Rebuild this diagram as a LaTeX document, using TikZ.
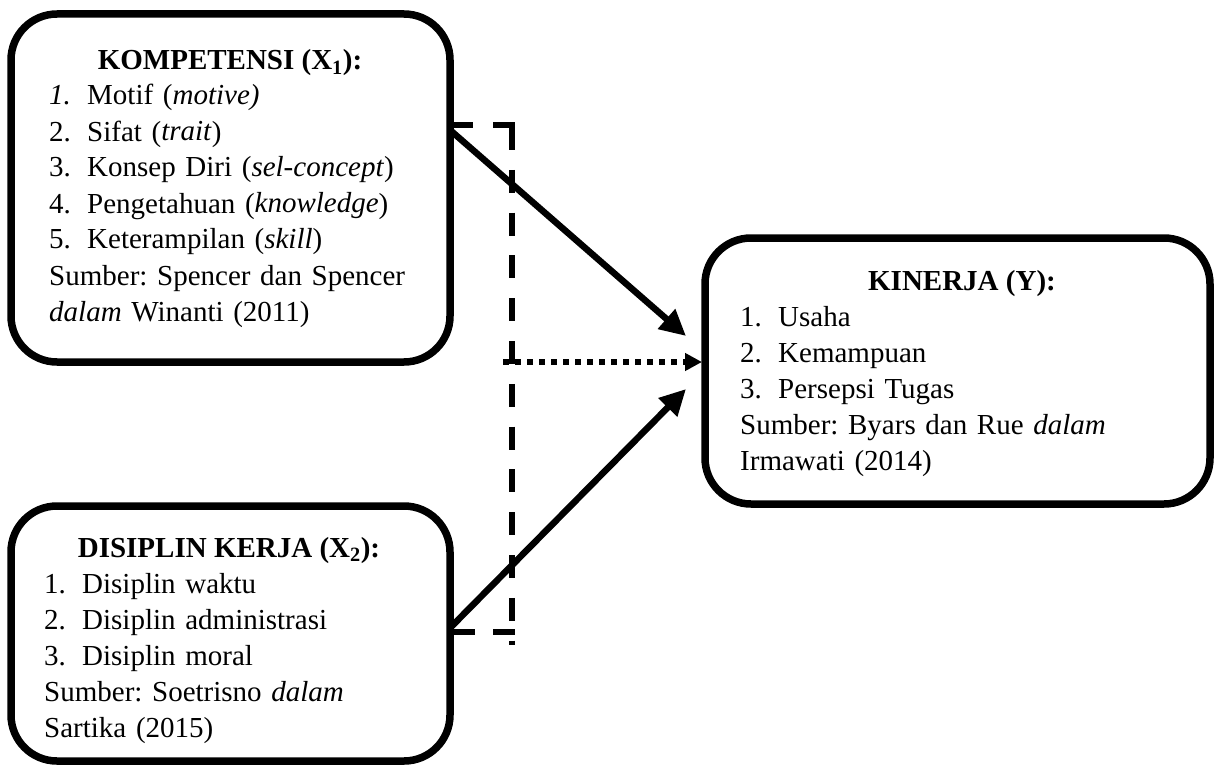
\documentclass[tikz,border=0pt]{standalone}
\usepackage{fontspec}
\setmainfont{Liberation Serif}
\usetikzlibrary{arrows.meta,calc}
\newcommand\numlab[1]{\makebox[38pt][l]{#1}}
\frenchspacing
\begin{document}
\begin{tikzpicture}[x=1pt,y=-1pt,
  box/.style={draw, line width=7.5pt, rounded corners=46pt, outer sep=0pt, inner sep=0pt},
  ttl/.style={anchor=base, inner sep=0pt, font=\fontsize{29}{36}\selectfont\bfseries},
  lst/.style={anchor=base west, inner sep=0pt, align=left, text width=430pt, font=\fontsize{29}{36}\selectfont\frenchspacing},
  arr/.style={line width=6.5pt, -{Triangle[length=26pt,width=25pt]}},
  dsh/.style={line width=6pt},
  dotarr/.style={line width=6pt, dash pattern=on 6pt off 6pt, -{Triangle[length=17pt,width=17pt]}}]
\useasboundingbox (0,0) rectangle (1217,765);

% boxes
\node[box, minimum width=439pt, minimum height=348pt] (k) at (230.5,188) {};
\node[box, minimum width=439pt, minimum height=255pt] (d) at (230.5,633.5) {};
\node[box, minimum width=505pt, minimum height=266pt] (y) at (957.5,371) {};

% texts box 1
\node[ttl] (kt) at (230,70) {KOMPETENSI (X\textsubscript{1}):};
\node[lst] (kl) at (49,105) {\numlab{\textit{1.}}Motif (\textit{motive)}\\
\numlab{2.}Sifat (\textit{trait})\\
\numlab{3.}Konsep Diri (\textit{sel-concept})\\
\numlab{4.}Pengetahuan (\textit{knowledge})\\
\numlab{5.}Keterampilan (\textit{skill})\\
Sumber: Spencer dan Spencer\\
\textit{dalam} Winanti (2011)};

% texts box 2
\node[ttl] (dt) at (229,557) {DISIPLIN KERJA (X\textsubscript{2}):};
\node[lst] (dl) at (44,593) {\numlab{1.}Disiplin waktu\\
\numlab{2.}Disiplin administrasi\\
\numlab{3.}Disiplin moral\\
Sumber: Soetrisno \textit{dalam}\\
Sartika (2015)};

% texts box 3
\node[ttl] (yt) at (962,290) {KINERJA (Y):};
\node[lst] (yl) at (740,326) {\numlab{1.}Usaha\\
\numlab{2.}Kemampuan\\
\numlab{3.}Persepsi Tugas\\
Sumber: Byars dan Rue \textit{dalam}\\
Irmawati (2014)};

% dashed bracket
\coordinate (bt) at (515,125);
\coordinate (bv) at (512,127);
\coordinate (bb) at (512,645);
\coordinate (bm) at (515,632);
\draw[dsh, dash pattern=on 23pt off 20pt] ([yshift=-111pt]k.north east) -- (bt);
\draw[dsh, dash pattern=on 23pt off 19.8pt] (bv) -- (bb);
\draw[dsh, dash pattern=on 25pt off 18pt] ([yshift=-126pt]d.north east) -- (bm);

% arrows
\draw[arr] ([yshift=-116pt]k.north east) -- ([xshift=-19pt,yshift=35pt]y.west);
\draw[arr] ([yshift=-122pt]d.north east) -- ([xshift=-19pt,yshift=-18pt]y.west);
\coordinate (d0) at (503,362);
\draw[dotarr] (d0) -- ([xshift=-3pt,yshift=9pt]y.west);
\end{tikzpicture}
\end{document}
